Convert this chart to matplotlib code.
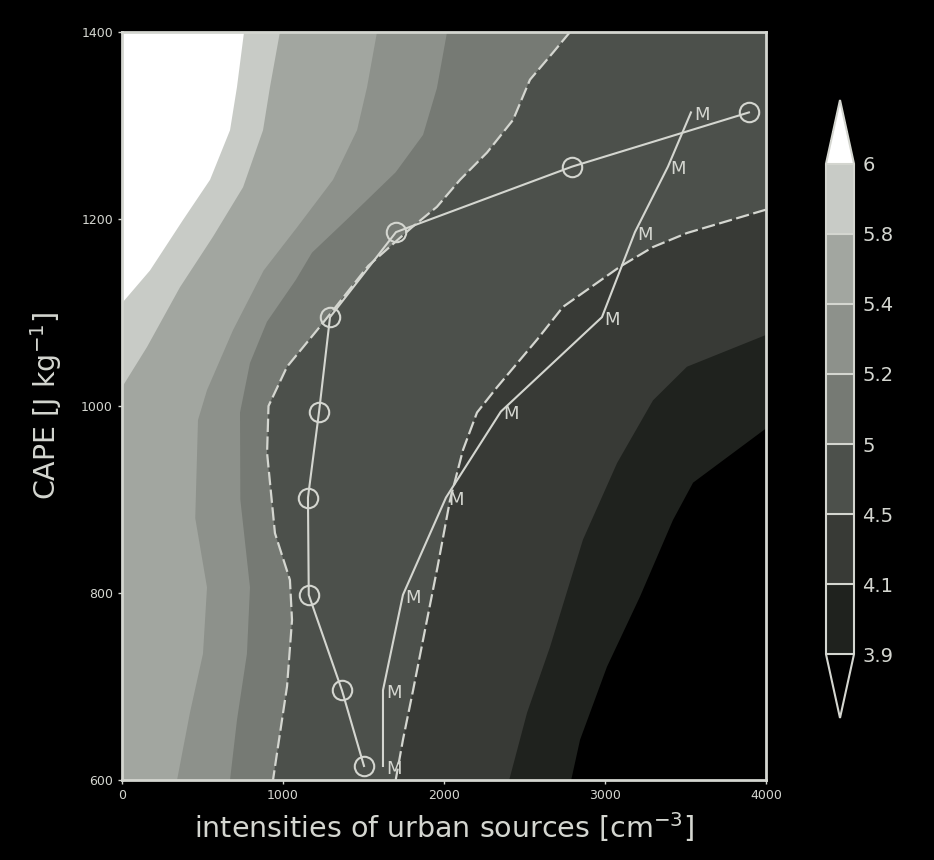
import numpy as np
import matplotlib
matplotlib.use("Agg")
import matplotlib.pyplot as plt
from matplotlib.colors import ListedColormap, BoundaryNorm
from matplotlib.cm import ScalarMappable

# contour boundaries: (CAPE, intensity) pairs, top to bottom
c60_cape = [1400, 1341, 1295, 1242, 1199, 1145, 1110]
c60_x = [758, 714, 671, 547, 379, 174, 0]

c58_cape = [1400, 1341, 1295, 1234, 1181, 1127, 1063, 1020]
c58_x = [981, 919, 876, 752, 565, 360, 155, 0]

c54_cape = [1400, 1341, 1295, 1242, 1191, 1145, 1081, 1017, 985, 880, 806, 735, 672, 600]
c54_x = [1584, 1522, 1460, 1311, 1087, 880, 689, 528, 472, 455, 528, 503, 422, 342]

c52_cape = [1400, 1340, 1290, 1250, 1200, 1164, 1135, 1090, 1046, 993, 900, 806, 735, 664, 600]
c52_x = [2019, 1956, 1870, 1700, 1400, 1180, 1080, 900, 795, 733, 735, 795, 776, 714, 671]

c50_cape = [1400, 1378, 1349, 1306, 1271, 1242, 1213, 1191, 1150, 1100, 1081, 1042, 1000,
            950, 864, 814, 771, 700, 629, 600]
c50_x = [2783, 2677, 2534, 2429, 2267, 2100, 1956, 1800, 1530, 1300, 1211, 1025, 910,
         901, 950, 1043, 1056, 1025, 963, 938]

c45_cape = [1210, 1185, 1170, 1149, 1106, 1071, 1020, 993, 953, 899, 828, 750, 696, 643, 600]
c45_x = [4000, 3509, 3298, 3093, 2739, 2578, 2329, 2205, 2118, 2037, 1960, 1870, 1808, 1745, 1700]

c41_cape = [1076, 1042, 1006, 939, 857, 742, 672, 600]
c41_x = [4000, 3509, 3298, 3075, 2863, 2658, 2516, 2405]

c39_cape = [976, 918, 878, 796, 721, 643, 600]
c39_x = [4000, 3547, 3422, 3217, 3012, 2845, 2790]

# two model series
cape_pts = [615, 696, 798, 902, 994, 1095, 1186, 1256, 1314]
circle_x = [1503, 1366, 1160, 1155, 1224, 1292, 1702, 2795, 3894]
m_x = [1621, 1621, 1745, 2012, 2353, 2981, 3186, 3391, 3534]

levels = [3.9, 4.1, 4.5, 5, 5.2, 5.4, 5.8, 6]
level_labels = ['3.9', '4.1', '4.5', '5', '5.2', '5.4', '5.8', '6']
band_colors = ['#1f221e', '#383a36', '#4c504b', '#767a74', '#8d918b', '#a2a6a0', '#c8cbc6']
over_color = '#ffffff'
under_color = '#000000'

fg = '#d4d6d0'

fig = plt.figure(figsize=(9.34, 8.6), dpi=100, facecolor='black')
ax = fig.add_axes([122/934, 1-780/860, 644/934, 748/860])
ax.set_facecolor(over_color)
ax.set_xlim(0, 4000)
ax.set_ylim(600, 1400)

# filled bands: each contour fills everything to its right with the next lower shade
contours = [(c60_x, c60_cape), (c58_x, c58_cape), (c54_x, c54_cape), (c52_x, c52_cape),
            (c50_x, c50_cape), (c45_x, c45_cape), (c41_x, c41_cape), (c39_x, c39_cape)]
fills = band_colors[::-1] + [under_color]
for (cx, cy), col in zip(contours, fills):
    px = list(cx)
    py = list(cy)
    if px[-1] == 0:
        px.append(0)
        py.append(600)
    px += [4000, 4000]
    py += [600, 1400]
    ax.fill(px, py, color=col, lw=0, zorder=1)

# dashed contour lines
for cx, cy in [(c50_x, c50_cape), (c45_x, c45_cape)]:
    ax.plot(cx, cy, color=fg, lw=1.6, dashes=(6, 2), zorder=3)

ax.plot(circle_x, cape_pts, color=fg, lw=1.5, marker='o', ms=14, mfc='none',
        mec=fg, mew=1.5, zorder=4)
ax.plot(m_x, cape_pts, color=fg, lw=1.5, zorder=4)
for x, y in zip(m_x, cape_pts):
    ax.annotate('M', (x, y), xytext=(2, -2), textcoords='offset points',
                ha='left', va='center', color=fg, fontsize=13, zorder=5)

ax.set_xticks([0, 1000, 2000, 3000, 4000])
ax.set_yticks([600, 800, 1000, 1200, 1400])
ax.tick_params(colors=fg, labelsize=9, length=3, width=1)
for s in ax.spines.values():
    s.set_color(fg)
    s.set_linewidth(2)
    s.set_zorder(6)

ax.set_xlabel('intensities of urban sources [cm$^{-3}$]', color=fg, fontsize=20.5, labelpad=6)
ax.set_ylabel('CAPE [J kg$^{-1}$]', color=fg, fontsize=20.5, labelpad=12)

# colorbar
cmap = ListedColormap(band_colors)
cmap.set_over(over_color)
cmap.set_under(under_color)
norm = BoundaryNorm(levels, cmap.N)
cax = fig.add_axes([826/934, 1-718/860, 28/934, 618/860])
cb = fig.colorbar(ScalarMappable(norm=norm, cmap=cmap), cax=cax, extend='both',
                  extendfrac=0.13, spacing='uniform', drawedges=True, ticks=levels)
cb.set_ticklabels(level_labels)
cb.outline.set_edgecolor(fg)
cb.outline.set_linewidth(1.5)
cb.dividers.set_color(fg)
cb.dividers.set_linewidth(1.5)
cax.tick_params(length=0, labelcolor=fg, labelsize=14, pad=6)

fig.savefig('out.png', dpi=100, facecolor='black')
